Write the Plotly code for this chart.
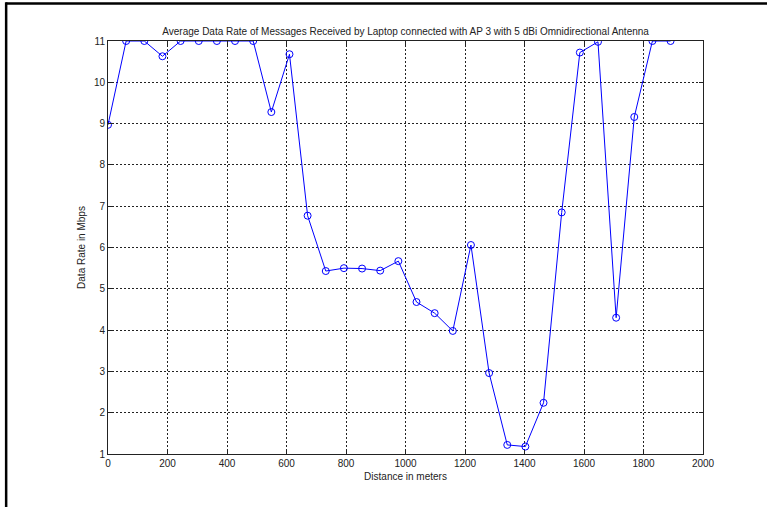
import plotly.graph_objects as go

distance_m = [0, 61, 122, 183, 244, 305, 366, 427, 488, 549, 610, 671, 732, 793, 854, 915,
              976, 1037, 1098, 1159, 1220, 1281, 1342, 1403, 1464, 1525, 1586, 1647, 1708,
              1769, 1830, 1891]
data_rate_mbps = [8.97, 11.0, 11.0, 10.63, 11.0, 11.0, 11.0, 11.0, 11.0, 9.28, 10.68, 6.77,
                  5.43, 5.50, 5.49, 5.44, 5.67, 4.68, 4.41, 3.98, 6.06, 2.96, 1.22, 1.18,
                  2.24, 6.85, 10.72, 10.98, 4.30, 9.16, 11.0, 11.0]
x_ticks = [0, 200, 400, 600, 800, 1000, 1200, 1400, 1600, 1800, 2000]
y_ticks = [1, 2, 3, 4, 5, 6, 7, 8, 9, 10, 11]

W, H = 767, 507
L, R, T, B = 108.3, 64, 41, 52.7
pw, ph = W - L - R, H - T - B

fig = go.Figure()
fig.add_trace(go.Scatter(
    x=distance_m, y=data_rate_mbps, mode="lines+markers",
    line=dict(color="#0000ff", width=1),
    marker=dict(symbol="circle-open", size=7, color="#0000ff", line=dict(width=1)),
    showlegend=False,
))

axis_common = dict(
    showline=True, linecolor="#222222", linewidth=1, mirror="ticks",
    ticks="inside", ticklen=4, tickcolor="#222222",
    showgrid=True, gridcolor="#222222", gridwidth=1, griddash="2px,2px",
    zeroline=False, tickfont=dict(family="Arial", size=10, color="#222222"),
)

fig.update_xaxes(range=[0, 2000], tickvals=x_ticks, ticktext=[str(v) for v in x_ticks],
                 title=dict(text="Distance in meters", font=dict(family="Arial", size=10, color="#222222"), standoff=4),
                 **axis_common)
fig.update_yaxes(range=[1, 11], tickvals=y_ticks, ticktext=[str(v) for v in y_ticks],
                 title=dict(text="Data Rate in Mbps", font=dict(family="Arial", size=10, color="#222222"), standoff=6),
                 **axis_common)

# outer figure frame (top and left edges visible)
def px_x(p):
    return (p - L) / pw

def px_y(p):
    return 1 - (p - T) / ph

fig.add_shape(type="line", xref="paper", yref="paper", x0=px_x(6.5), x1=px_x(770),
              y0=px_y(3.5), y1=px_y(3.5), line=dict(color="black", width=2.5))
fig.add_shape(type="line", xref="paper", yref="paper", x0=px_x(6.5), x1=px_x(6.5),
              y0=px_y(2.3), y1=px_y(510), line=dict(color="black", width=2.5))

fig.update_layout(
    width=W, height=H,
    margin=dict(l=L, r=R, t=T, b=B),
    paper_bgcolor="white", plot_bgcolor="white",
    title=dict(text="Average Data Rate of Messages Received by Laptop connected with AP 3 with 5 dBi Omnidirectional Antenna",
               font=dict(family="Arial", size=10, color="#222222"),
               x=(405.6) / W, xanchor="center", y=1 - 31 / H, yanchor="middle"),
)

fig.write_html("out.html")
